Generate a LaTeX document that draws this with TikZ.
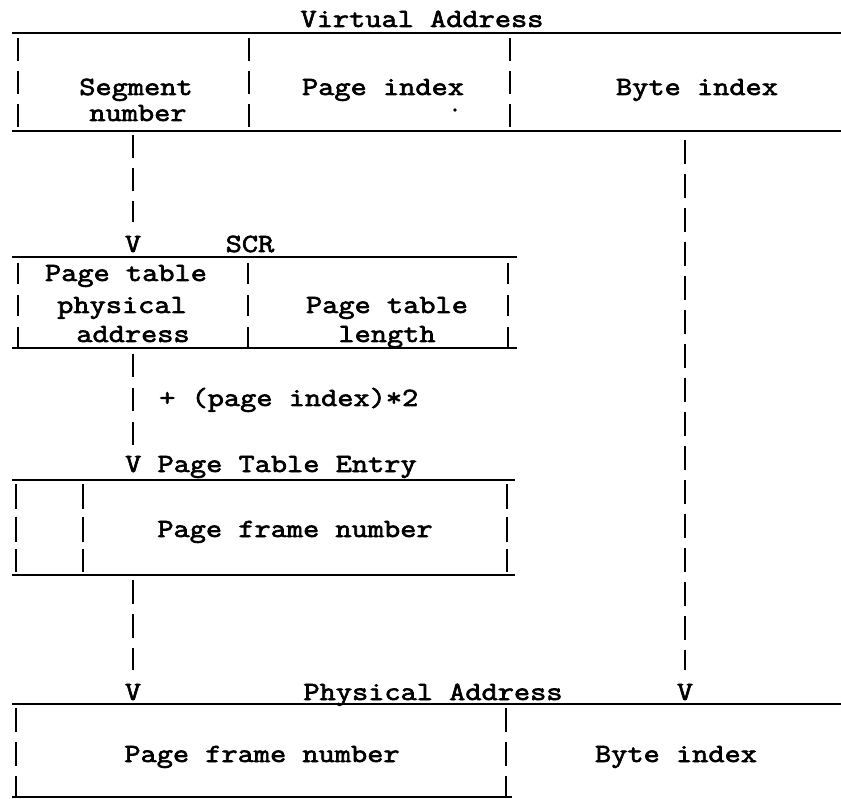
\documentclass[tikz,border=0pt]{standalone}
\usepackage{fontspec}
\newfontfamily\tw{Latin Modern Mono}[FakeBold=2.5,FakeStretch=1.2]
\begin{document}
\begin{tikzpicture}[x=1pt,y=-1pt,
  txt/.style={font=\tw\fontsize{26.2}{30}\selectfont, inner sep=0pt, anchor=base},
  hline/.style={line width=2pt},
  vbar/.style={line width=2.5pt},
  d1/.style={vbar, dash pattern=on 23pt off 10pt},
  d2/.style={vbar, dash pattern=on 21pt off 11pt},
  d3/.style={vbar, dash pattern=on 25pt off 7.5pt},
  d4/.style={vbar, dash pattern=on 24pt off 10pt},
  d5/.style={vbar, dash pattern=on 23pt off 11pt},
]
\useasboundingbox (0,0) rectangle (841,799);

% ---------- Virtual address ----------
\node[txt] (va) at (422,27) {Virtual Address};
\draw[hline] (12,33) -- (841,33);
\draw[hline] (12,131) -- (841,131);
\draw[d1] (18,38) -- (18,127);
\draw[d1] (249,38) -- (249,127);
\draw[d1] (510,38) -- (510,127);
\node[txt] (seg) at (136,95) {Segment};
\node[txt] (segn) at (138,121) {number};
\node[txt] (pidx) at (383,95) {Page index};
\fill (455,110) circle (1.8pt);
\node[txt] (bidx) at (697,95) {Byte index};

% ---------- segment connector ----------
\coordinate (c1a) at (133,135);
\coordinate (c1b) at (133,222);
\draw[d1] (c1a) -- (c1b);
\node[txt] (v1) at (133,252) {V};
\node[txt] (scr) at (250,252) {SCR};

% ---------- SCR box ----------
\draw[hline] (12,257) -- (517,257);
\draw[hline] (12,348) -- (517,348);
\draw[d2] (18,263) -- (18,347);
\draw[d2] (248,263) -- (248,347);
\draw[d2] (508,263) -- (508,347);
\node[txt] (pt1) at (126,281) {Page table};
\node[txt] (pt2) at (122,313) {physical};
\node[txt] (pt3) at (133,342) {address};
\node[txt] (pl1) at (387,313) {Page table};
\node[txt] (pl2) at (387,342) {length};

% ---------- connector SCR -> PTE ----------
\coordinate (c2a) at (133,354);
\coordinate (c2b) at (133,445);
\draw[d5] (c2a) -- (c2b);
\node[txt, anchor=base west] (plus) at (159,406) {+ (page index)*2};
\node[txt, anchor=base west] (pte) at (125,472) {V Page Table Entry};

% ---------- PTE box ----------
\draw[hline] (12,480) -- (515,480);
\draw[hline] (12,575) -- (515,575);
\draw[d3] (16,484) -- (16,572);
\draw[d3] (83,484) -- (83,572);
\draw[d3] (507,484) -- (507,572);
\node[txt] (pfn1) at (295,537) {Page frame number};

% ---------- connector PTE -> PA ----------
\coordinate (c3a) at (133,580);
\coordinate (c3b) at (133,670);
\draw[d4] (c3a) -- (c3b);
\node[txt] (v3) at (133,700) {V};
\node[txt] (pa) at (433,700) {Physical Address};

% ---------- byte index connector ----------
\coordinate (c4a) at (685,140);
\coordinate (c4b) at (685,670);
\draw[d4] (c4a) -- (c4b);
\node[txt] (v4) at (685,700) {V};

% ---------- Physical address box ----------
\draw[hline] (12,704) -- (841,704);
\draw[hline] (12,797) -- (512,797);
\draw[d4] (16,708) -- (16,796);
\draw[d4] (506,708) -- (506,796);
\node[txt] (pfn2) at (262,762) {Page frame number};
\node[txt] (bidx2) at (676,762) {Byte index};
\end{tikzpicture}
\end{document}
